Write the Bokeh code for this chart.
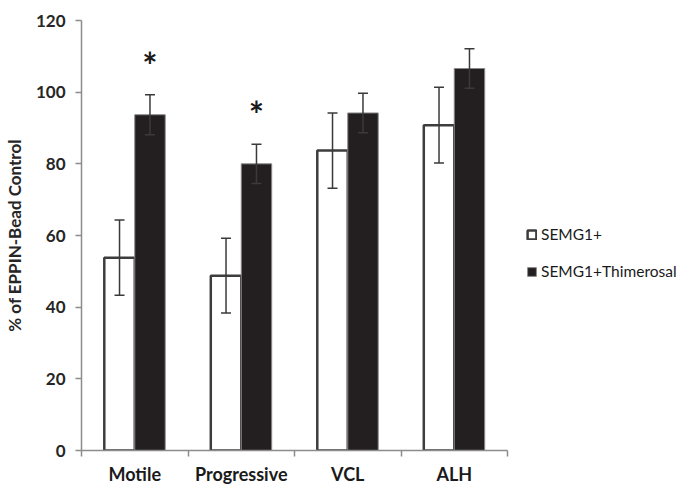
from bokeh.plotting import figure
from bokeh.models import ColumnDataSource, Whisker, FixedTicker, Legend, LegendItem, Range1d, TeeHead
from bokeh.core.properties import value
from bokeh.embed import file_html
from bokeh.resources import INLINE

categories = ["Motile", "Progressive", "VCL", "ALH"]
semg1 = [53.8, 48.8, 83.7, 90.8]
semg1_err = [10.5, 10.4, 10.5, 10.6]
thimerosal = [93.7, 80.0, 94.2, 106.6]
thimerosal_err = [5.6, 5.5, 5.5, 5.5]
significance = ["*", "*", "", ""]
y_ticks = [0, 20, 40, 60, 80, 100, 120]

FONT = "Lato"
BAR_W = 0.286
centers = [i + 0.5 for i in range(len(categories))]
bounds = [i for i in range(len(categories) + 1)]
x_white = [c - BAR_W / 2 for c in centers]
x_black = [c + BAR_W / 2 for c in centers]

src_w = ColumnDataSource(dict(x=x_white, top=semg1,
                              upper=[v + e for v, e in zip(semg1, semg1_err)],
                              lower=[v - e for v, e in zip(semg1, semg1_err)]))
src_b = ColumnDataSource(dict(x=x_black, top=thimerosal,
                              upper=[v + e for v, e in zip(thimerosal, thimerosal_err)],
                              lower=[v - e for v, e in zip(thimerosal, thimerosal_err)]))
star_offset = 8.3
src_s = ColumnDataSource(dict(x=x_black,
                              y=[v + e + star_offset for v, e in zip(thimerosal, thimerosal_err)],
                              t=significance))

p = figure(frame_width=426, frame_height=430, x_range=Range1d(0, 4), y_range=Range1d(0, 120),
           output_backend="svg", toolbar_location=None,
           min_border_left=74, min_border_right=168, min_border_top=20, min_border_bottom=27)
p.outline_line_color = None
p.xgrid.visible = False
p.ygrid.visible = False

r_w = p.vbar(x="x", top="top", bottom=0, width=BAR_W, source=src_w,
             fill_color="white", line_color="#3d3d3d", line_width=2.5)
r_b = p.vbar(x="x", top="top", bottom=0, width=BAR_W, source=src_b,
             fill_color="#231f20", line_color="#8a8a8a", line_width=1)

for src in (src_w, src_b):
    w = Whisker(source=src, base="x", upper="upper", lower="lower", dimension="height",
                line_color="#3a3a3a", line_width=1.5, level="overlay")
    w.upper_head = TeeHead(size=10, line_color="#3a3a3a", line_width=1.5)
    w.lower_head = TeeHead(size=10, line_color="#3a3a3a", line_width=1.5)
    p.add_layout(w)

p.text(x="x", y="y", text="t", source=src_s, text_font=value(FONT), text_font_style="bold",
       text_font_size="36px", text_align="center", text_baseline="middle", text_color="#1a1a1a")

axis_color = "#8c8c8c"
# y axis
p.yaxis.ticker = FixedTicker(ticks=y_ticks)
p.yaxis.axis_line_color = axis_color
p.yaxis.axis_line_width = 1.5
p.yaxis.major_tick_line_color = axis_color
p.yaxis.major_tick_line_width = 1.5
p.yaxis.major_tick_out = 6
p.yaxis.major_tick_in = 0
p.yaxis.minor_tick_line_color = None
p.yaxis.major_label_standoff = 10
p.yaxis.major_label_text_font = FONT
p.yaxis.major_label_text_font_style = "bold"
p.yaxis.major_label_text_font_size = "17px"
p.yaxis.major_label_text_color = "#262626"
p.yaxis.axis_label = "% of EPPIN-Bead Control"
p.yaxis.axis_label_text_font = FONT
p.yaxis.axis_label_text_font_style = "bold"
p.yaxis.axis_label_text_font_size = "17px"
p.yaxis.axis_label_text_color = "#262626"
p.yaxis.axis_label_standoff = 8

# x axis
p.xaxis.ticker = FixedTicker(ticks=centers, minor_ticks=bounds)
p.xaxis.major_label_overrides = {c: n for c, n in zip(centers, categories)}
p.xaxis.axis_line_color = axis_color
p.xaxis.axis_line_width = 1.5
p.xaxis.major_tick_out = 0
p.xaxis.major_tick_in = 0
p.xaxis.major_tick_line_color = None
p.xaxis.minor_tick_out = 6
p.xaxis.minor_tick_in = 0
p.xaxis.minor_tick_line_color = axis_color
p.xaxis.minor_tick_line_width = 1.5
p.xaxis.major_label_standoff = 6
p.xaxis.major_label_text_font = FONT
p.xaxis.major_label_text_font_style = "bold"
p.xaxis.major_label_text_font_size = "18px"
p.xaxis.major_label_text_color = "#1a1a1a"

legend = Legend(items=[LegendItem(label="SEMG1+", renderers=[r_w]),
                       LegendItem(label="SEMG1+Thimerosal", renderers=[r_b])],
                location=(19, 169), padding=0, margin=0, spacing=17,
                glyph_width=11, glyph_height=11, label_height=20, label_standoff=4,
                border_line_color=None, background_fill_alpha=0,
                label_text_font=FONT, label_text_font_size="15.5px", label_text_color="#1a1a1a")
p.add_layout(legend, "right")

open("out.html", "w").write(file_html(p, INLINE))
